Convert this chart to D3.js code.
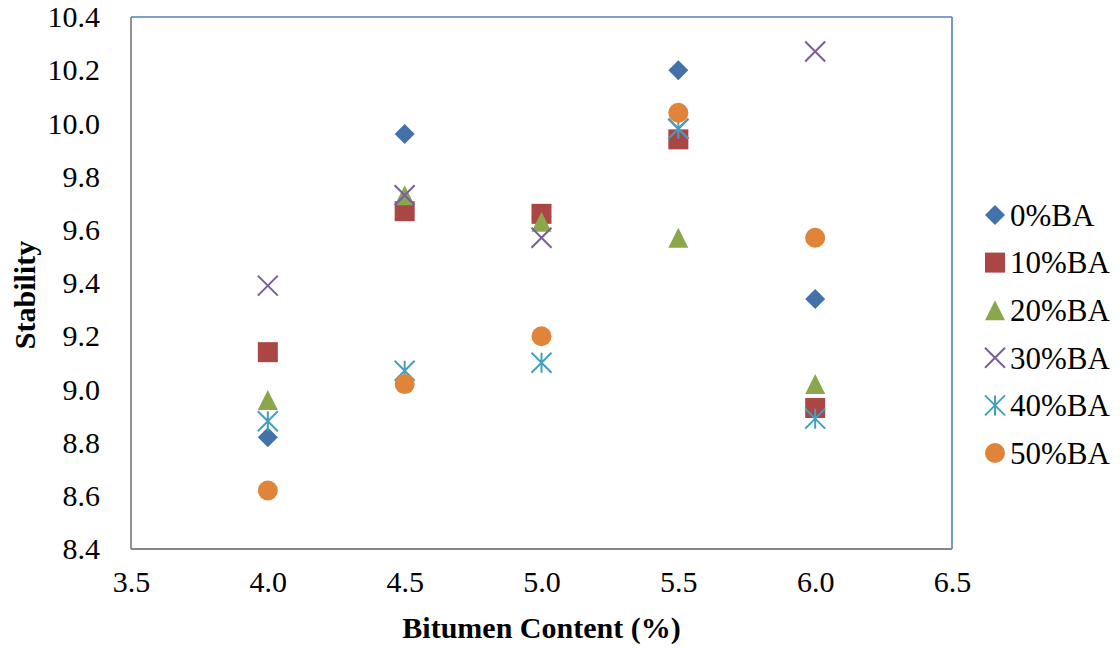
<!DOCTYPE html>
<html>
<head>
<meta charset="utf-8">
<script src="https://cdn.jsdelivr.net/npm/d3@7"></script>
<style>
  html, body { margin: 0; padding: 0; background: #ffffff; }
  svg { display: block; }
</style>
</head>
<body>
<svg id="chart" width="1120" height="648"></svg>
<script>
// Bitumen content levels (%)
const bitumen = [4.0, 4.5, 5.0, 5.5, 6.0];

// Stability for each bottom-ash replacement level
const ba0  = [8.82, 9.96, 9.65, 10.20, 9.34];
const ba10 = [9.14, 9.67, 9.66, 9.94, 8.93];
const ba20 = [8.96, 9.73, 9.63, 9.57, 9.02];
const ba30 = [9.39, 9.73, 9.57, 9.98, 10.27];
const ba40 = [8.88, 9.07, 9.10, 9.98, 8.89];
const ba50 = [8.62, 9.02, 9.20, 10.04, 9.57];

const seriesNames = ["0%BA", "10%BA", "20%BA", "30%BA", "40%BA", "50%BA"];
const xTicks = [3.5, 4.0, 4.5, 5.0, 5.5, 6.0, 6.5];
const yTicks = [8.4, 8.6, 8.8, 9.0, 9.2, 9.4, 9.6, 9.8, 10.0, 10.2, 10.4];

const seriesValues = [ba0, ba10, ba20, ba30, ba40, ba50];
const markerKinds = ["diamond", "square", "triangle", "cross", "star", "circle"];
const markerColors = ["#4372AB", "#AA4643", "#8AA84B", "#7A5D9F", "#44A0BA", "#DF8438"];

const svg = d3.select("#chart");
const plot = { left: 131, top: 17, right: 952, bottom: 549 };

const x = d3.scaleLinear().domain([3.5, 6.5]).range([plot.left, plot.right]);
const y = d3.scaleLinear().domain([8.4, 10.4]).range([plot.bottom, plot.top]);

const font = "'Liberation Serif', 'Times New Roman', serif";

// Axes: labels only, no tick marks
const xAxis = d3.axisBottom(x).tickValues(xTicks).tickFormat(d3.format(".1f")).tickSize(0).tickPadding(22);
const yAxis = d3.axisLeft(y).tickValues(yTicks).tickFormat(d3.format(".1f")).tickSize(0).tickPadding(31);

const gx = svg.append("g").attr("transform", `translate(0,${plot.bottom})`).call(xAxis);
const gy = svg.append("g").attr("transform", `translate(${plot.left},0)`).call(yAxis);
[gx, gy].forEach(g => {
  g.select(".domain").remove();
  g.selectAll("text").attr("font-family", font).attr("font-size", 30).attr("fill", "#000");
});

// Plot area frame: grey axis lines on left/bottom, blue border top/right
svg.append("line").attr("x1", plot.left).attr("x2", plot.right).attr("y1", plot.top).attr("y2", plot.top)
  .attr("stroke", "#4F81BD").attr("stroke-width", 1.6);
svg.append("line").attr("x1", plot.right).attr("x2", plot.right).attr("y1", plot.top).attr("y2", plot.bottom)
  .attr("stroke", "#4F81BD").attr("stroke-width", 1.6);
svg.append("line").attr("x1", plot.left).attr("x2", plot.left).attr("y1", plot.top).attr("y2", plot.bottom)
  .attr("stroke", "#868686").attr("stroke-width", 1.8);
svg.append("line").attr("x1", plot.left).attr("x2", plot.right).attr("y1", plot.bottom).attr("y2", plot.bottom)
  .attr("stroke", "#868686").attr("stroke-width", 1.8);

// Marker drawing
function drawMarker(g, kind, color) {
  const s = 10;
  if (kind === "diamond") {
    g.append("path").attr("d", `M0,${-s}L${s},0L0,${s}L${-s},0Z`).attr("fill", color);
  } else if (kind === "square") {
    g.append("rect").attr("x", -s).attr("y", -s).attr("width", 2 * s).attr("height", 2 * s).attr("fill", color);
  } else if (kind === "triangle") {
    g.append("path").attr("d", `M0,${-s}L${s},${s}L${-s},${s}Z`).attr("fill", color);
  } else if (kind === "cross") {
    g.append("path").attr("d", `M${-s},${-s}L${s},${s}M${-s},${s}L${s},${-s}`)
      .attr("stroke", color).attr("stroke-width", 2).attr("fill", "none");
  } else if (kind === "star") {
    g.append("path").attr("d", `M${-s},${-s}L${s},${s}M${-s},${s}L${s},${-s}M0,${-s}L0,${s}`)
      .attr("stroke", color).attr("stroke-width", 2).attr("fill", "none");
  } else if (kind === "circle") {
    g.append("circle").attr("r", s).attr("fill", color);
  }
}

// Scatter points
seriesValues.forEach((vals, i) => {
  const g = svg.append("g").attr("class", "series");
  vals.forEach((v, j) => {
    const m = g.append("g").attr("transform", `translate(${x(bitumen[j])},${y(v)})`);
    drawMarker(m, markerKinds[i], markerColors[i]);
  });
});

// Legend
const legend = svg.append("g").attr("transform", "translate(995,215)");
seriesNames.forEach((name, i) => {
  const row = legend.append("g").attr("transform", `translate(0,${i * 47.6})`);
  drawMarker(row, markerKinds[i], markerColors[i]);
  row.append("text").attr("x", 15).attr("y", 0).attr("dy", "0.35em")
    .attr("font-family", font).attr("font-size", 31).attr("fill", "#000").text(name);
});

// Axis titles
svg.append("text").attr("x", (plot.left + plot.right) / 2).attr("y", 638)
  .attr("text-anchor", "middle").attr("font-family", font).attr("font-size", 30)
  .attr("font-weight", "bold").attr("fill", "#000").text("Bitumen Content (%)");
svg.append("text").attr("transform", `translate(35,295) rotate(-90)`)
  .attr("text-anchor", "middle").attr("font-family", font).attr("font-size", 30)
  .attr("font-weight", "bold").attr("fill", "#000").text("Stability");
</script>
</body>
</html>
